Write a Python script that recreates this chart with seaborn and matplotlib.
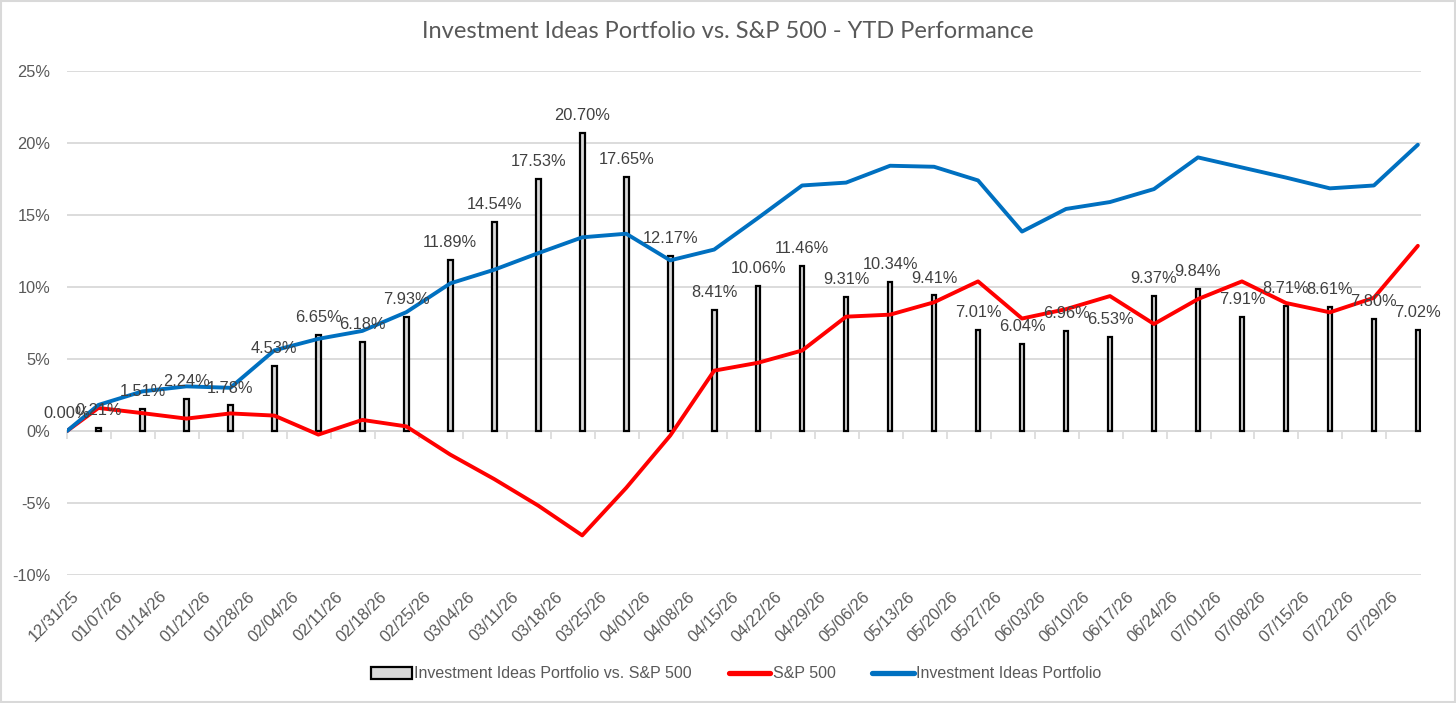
import numpy as np
import pandas as pd
import matplotlib
matplotlib.use("Agg")
import matplotlib.pyplot as plt
import seaborn as sns
from matplotlib.patches import Rectangle, Patch
from matplotlib.lines import Line2D
from matplotlib.transforms import ScaledTranslation

# ---------------- data ----------------
dates = ["12/31/25", "01/05/26", "01/12/26", "01/19/26", "01/26/26", "02/02/26",
         "02/09/26", "02/16/26", "02/23/26", "03/02/26", "03/09/26", "03/16/26",
         "03/23/26", "03/30/26", "04/06/26", "04/13/26", "04/20/26", "04/27/26",
         "05/04/26", "05/11/26", "05/18/26", "05/25/26", "06/01/26", "06/08/26",
         "06/15/26", "06/22/26", "06/29/26", "07/06/26", "07/13/26", "07/20/26",
         "07/27/26", "08/03/26"]
spread = [0.00, 0.21, 1.51, 2.24, 1.78, 4.53, 6.65, 6.18, 7.93, 11.89, 14.54, 17.53,
          20.70, 17.65, 12.17, 8.41, 10.06, 11.46, 9.31, 10.34, 9.41, 7.01, 6.04, 6.96,
          6.53, 9.37, 9.84, 7.91, 8.71, 8.61, 7.80, 7.02]
sp500 = [0.00, 1.60, 1.24, 0.86, 1.22, 1.07, -0.25, 0.77, 0.32, -1.64, -3.34, -5.18,
         -7.25, -3.95, -0.32, 4.19, 4.74, 5.59, 7.94, 8.08, 8.94, 10.39, 7.81, 8.46,
         9.37, 7.43, 9.16, 10.39, 8.89, 8.24, 9.25, 12.86]
portfolio = [0.00, 1.81, 2.75, 3.10, 3.00, 5.60, 6.40, 6.95, 8.25, 10.25, 11.20, 12.35,
             13.45, 13.70, 11.85, 12.60, 14.80, 17.05, 17.25, 18.42, 18.35, 17.40, 13.85,
             15.42, 15.90, 16.80, 19.00, 18.30, 17.60, 16.85, 17.05, 19.88]
title = "Investment Ideas Portfolio vs. S&P 500 - YTD Performance"
series_names = ["Investment Ideas Portfolio vs. S&P 500", "S&P 500", "Investment Ideas Portfolio"]
y_ticks = [-10, -5, 0, 5, 10, 15, 20, 25]

# ---------------- style ----------------
sns.set_style("white")
plt.rcParams["font.family"] = ["Liberation Sans", "DejaVu Sans"]

dt = pd.to_datetime(dates, format="%m/%d/%y")
days = np.asarray((dt - dt[0]).days, dtype=float)
df = pd.DataFrame({"day": days, "spread": spread, "sp": sp500, "pf": portfolio})

tick_dates = pd.date_range(dt[0], dt[-1], freq="7D")
tick_days = np.asarray((tick_dates - dt[0]).days, dtype=float)
tick_labels = [d.strftime("%m/%d/%y") for d in tick_dates]

W, H = 1456, 703
fig = plt.figure(figsize=(W / 100, H / 100), dpi=100)
ax = fig.add_axes([67 / W, 1 - 575 / H, (1421 - 67) / W, (575 - 71) / H])

GRID = "#d9d9d9"
TXT = "#595959"

sns.barplot(data=df, x="day", y="spread", native_scale=True, width=0.15,
            color="#d9d9d9", saturation=1, edgecolor="black", linewidth=1.6,
            errorbar=None, ax=ax, zorder=2)
sns.lineplot(data=df, x="day", y="sp", color="#ff0000", linewidth=2.8, ax=ax, zorder=3)
sns.lineplot(data=df, x="day", y="pf", color="#0070c0", linewidth=2.8, ax=ax, zorder=4)

for x, v in zip(days, spread):
    ax.annotate(f"{v:.2f}%", (x, v), xytext=(0, 12.5), textcoords="offset points",
                ha="center", va="center", fontsize=11.8, color="#404040", zorder=6)

ax.set_xlim(0, 215.5)
ax.set_ylim(-10, 25)
ax.set_yticks(y_ticks)
ax.set_yticklabels([f"{t}%" for t in y_ticks])
ax.yaxis.grid(True, color=GRID, linewidth=1.3)
ax.set_axisbelow(True)
for s in ax.spines.values():
    s.set_visible(False)
ax.set_xlabel("")
ax.set_ylabel("")
ax.set_xticks(tick_days)
ax.set_xticklabels(tick_labels, rotation=45, ha="right", rotation_mode="anchor")
ax.tick_params(axis="x", length=0, pad=10, labelsize=11.8, labelcolor=TXT)
ax.tick_params(axis="y", length=0, pad=12, labelsize=11.8, labelcolor=TXT)
shift = ScaledTranslation(4 / 100, 0, fig.dpi_scale_trans)
for lbl in ax.get_xticklabels():
    lbl.set_transform(lbl.get_transform() + shift)

# category axis line with tick marks at zero
sec = ax.secondary_xaxis(10 / 35)
sec.set_xticks(tick_days)
sec.tick_params(axis="x", direction="out", length=6, width=1.2, color=GRID,
                labelbottom=False, labeltop=False)
for s in sec.spines.values():
    s.set_color(GRID)
    s.set_linewidth(1.3)

fig.text(728 / W, 1 - 32 / H, title, ha="center", va="center", fontsize=17,
         color=TXT, family=["Lato", "DejaVu Sans"])

handles = [Patch(facecolor="#d9d9d9", edgecolor="black", linewidth=1.6),
           Line2D([], [], color="#ff0000", lw=3.8),
           Line2D([], [], color="#0070c0", lw=3.8)]
fig.legend(handles, series_names, loc="center", bbox_to_anchor=(736 / W, 1 - 674 / H),
           ncol=3, frameon=False, handlelength=2.6, handletextpad=0.15, columnspacing=2.3,
           prop={"family": ["Liberation Sans Narrow", "Liberation Sans"], "size": 11.5},
           labelcolor=TXT)

fig.patches.append(Rectangle((0.0008, 0.0015), 0.9984, 0.997, transform=fig.transFigure,
                             fill=False, edgecolor=GRID, linewidth=1.5))

fig.savefig("out.png", dpi=100)
